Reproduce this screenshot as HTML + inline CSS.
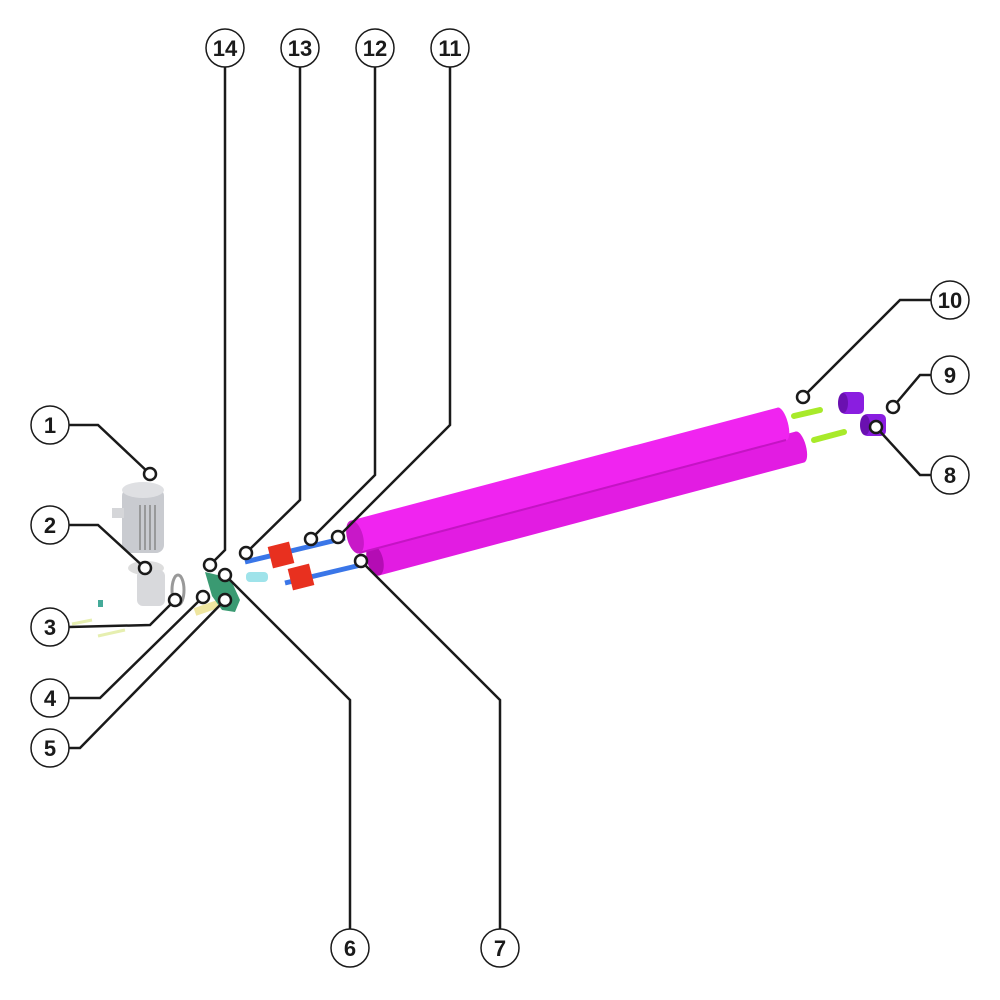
<!DOCTYPE html>
<html><head><meta charset="utf-8"><style>body{margin:0;background:#fff}svg{display:block}</style></head><body>
<svg width="1000" height="1000" viewBox="0 0 1000 1000" xmlns="http://www.w3.org/2000/svg">
<rect x="122" y="488" width="42" height="65" rx="8" fill="#c9cbd0"/>
<ellipse cx="143" cy="490" rx="21" ry="8" fill="#dfe0e3"/>
<g stroke="#888" stroke-width="1.5"><line x1="140" y1="505" x2="140" y2="550"/><line x1="145" y1="505" x2="145" y2="550"/><line x1="150" y1="505" x2="150" y2="550"/><line x1="155" y1="505" x2="155" y2="550"/></g>
<rect x="112" y="508" width="12" height="10" fill="#d5d6d9"/>
<ellipse cx="146" cy="568" rx="18" ry="7" fill="#ddd"/>
<rect x="137" y="570" width="28" height="36" rx="6" fill="#d8d9dc"/>
<ellipse cx="178" cy="590" rx="6" ry="15" fill="none" stroke="#999" stroke-width="3"/>
<rect x="98" y="600" width="5" height="7" fill="#4a9"/>
<line x1="72" y1="624" x2="92" y2="620" stroke="#e6efb0" stroke-width="3"/>
<line x1="98" y1="636" x2="125" y2="630" stroke="#e6efb0" stroke-width="3"/>
<line x1="195" y1="612" x2="218" y2="604" stroke="#efe6a0" stroke-width="8"/>
<path d="M205 572 L230 578 L240 600 L235 612 L222 610 L212 596 Z" fill="#3a9a72"/>
<line x1="245" y1="562" x2="345" y2="538" stroke="#3a76e8" stroke-width="5"/>
<line x1="285" y1="583" x2="365" y2="564" stroke="#3a76e8" stroke-width="5"/>
<rect x="270" y="544" width="22" height="22" fill="#e8301f" transform="rotate(-14 281 555)"/>
<rect x="290" y="566" width="22" height="22" fill="#e8301f" transform="rotate(-14 301 577)"/>
<rect x="246" y="572" width="22" height="10" rx="4" fill="#9fe3ea"/>
<!-- lower roller -->
<line x1="375" y1="560" x2="800" y2="447" stroke="#e21ce2" stroke-width="32"/>
<ellipse cx="800" cy="447" rx="6" ry="16" transform="rotate(-15 800 447)" fill="#e21ce2"/>
<ellipse cx="375" cy="560" rx="8" ry="16" transform="rotate(-15 375 560)" fill="#b40cb4"/>
<!-- upper roller -->
<line x1="355" y1="537" x2="782" y2="424" stroke="#f024f0" stroke-width="34"/>
<ellipse cx="782" cy="424" rx="6" ry="17" transform="rotate(-15 782 424)" fill="#f024f0"/>
<line x1="359" y1="553" x2="786" y2="440" stroke="#c414c4" stroke-width="2"/>
<ellipse cx="355" cy="537" rx="8" ry="17" transform="rotate(-15 355 537)" fill="#c818c8"/>
<line x1="794" y1="416" x2="820" y2="410" stroke="#a8ea2a" stroke-width="6" stroke-linecap="round"/>
<line x1="814" y1="440" x2="844" y2="432" stroke="#a8ea2a" stroke-width="6" stroke-linecap="round"/>
<rect x="840" y="392" width="24" height="22" rx="5" fill="#8a1ee0"/>
<ellipse cx="843" cy="403" rx="5" ry="10" fill="#6a10b0"/>
<rect x="862" y="414" width="24" height="22" rx="5" fill="#8a1ee0"/>
<ellipse cx="865" cy="425" rx="5" ry="10" fill="#6a10b0"/>
<g fill="none" stroke="#1a1a1a" stroke-width="2.5">
<polyline points="69,425 98,425 150,474"/>
<polyline points="69,525 98,525 145,568"/>
<polyline points="69,627 150,625 175,600"/>
<polyline points="69,698 100,698 203,597"/>
<polyline points="69,748 80,748 225,600"/>
<polyline points="350,929 350,700 225,575"/>
<polyline points="500,929 500,700 361,561"/>
<polyline points="931,475 920,475 876,427"/>
<polyline points="931,375 920,375 893,407"/>
<polyline points="931,300 900,300 803,397"/>
<polyline points="450,67 450,425 338,537"/>
<polyline points="375,67 375,475 311,539"/>
<polyline points="300,67 300,500 246,553"/>
<polyline points="225,67 225,550 210,565"/>
</g>
<g fill="#fff" stroke="#1a1a1a" stroke-width="2.5">
<circle cx="150" cy="474" r="6"/><circle cx="145" cy="568" r="6"/><circle cx="175" cy="600" r="6"/>
<circle cx="203" cy="597" r="6"/><circle cx="225" cy="600" r="6"/><circle cx="225" cy="575" r="6"/>
<circle cx="361" cy="561" r="6"/><circle cx="876" cy="427" r="6"/><circle cx="893" cy="407" r="6"/>
<circle cx="803" cy="397" r="6"/><circle cx="338" cy="537" r="6"/><circle cx="311" cy="539" r="6"/>
<circle cx="246" cy="553" r="6"/><circle cx="210" cy="565" r="6"/>
</g>
<g fill="#fff" stroke="#1a1a1a" stroke-width="1.5">
<circle cx="50" cy="425" r="19"/><circle cx="50" cy="525" r="19"/><circle cx="50" cy="627" r="19"/>
<circle cx="50" cy="698" r="19"/><circle cx="50" cy="748" r="19"/><circle cx="350" cy="948" r="19"/>
<circle cx="500" cy="948" r="19"/><circle cx="950" cy="475" r="19"/><circle cx="950" cy="375" r="19"/>
<circle cx="950" cy="300" r="19"/><circle cx="450" cy="48" r="19"/><circle cx="375" cy="48" r="19"/>
<circle cx="300" cy="48" r="19"/><circle cx="225" cy="48" r="19"/>
</g>
<g font-family="Liberation Sans, sans-serif" font-weight="bold" font-size="22" fill="#1a1a1a" text-anchor="middle">
<text x="50" y="433">1</text><text x="50" y="533">2</text><text x="50" y="635">3</text>
<text x="50" y="706">4</text><text x="50" y="756">5</text><text x="350" y="956">6</text>
<text x="500" y="956">7</text><text x="950" y="483">8</text><text x="950" y="383">9</text>
<text x="950" y="308">10</text><text x="450" y="56">11</text><text x="375" y="56">12</text>
<text x="300" y="56">13</text><text x="225" y="56">14</text>
</g>
</svg>
</body></html>
